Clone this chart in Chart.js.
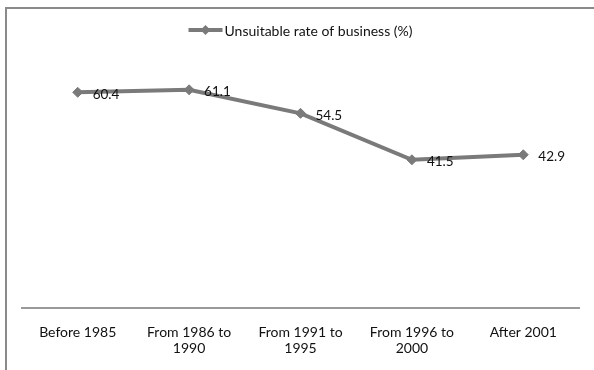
<!DOCTYPE html>
<html>
<head>
<meta charset="utf-8">
<script src="https://cdn.jsdelivr.net/npm/chart.js@4/dist/chart.umd.min.js"></script>
<style>
  html, body { margin: 0; padding: 0; background: #fff; overflow: hidden; }
  #wrap { position: relative; width: 594px; height: 370px; }
  #frame { position: absolute; left: 5px; top: 7px; width: 700px; height: 500px; border: 2px solid #8a8a8a; }
  canvas { position: absolute; left: 0; top: 0; }
</style>
</head>
<body>
<div id="wrap">
  <div id="frame"></div>
  <canvas id="rateChart" width="594" height="370"></canvas>
</div>
<script>
// Periodes en percentages
const periods = [
  "Before 1985",
  ["From 1986 to", "1990"],
  ["From 1991 to", "1995"],
  ["From 1996 to", "2000"],
  "After 2001"
];
const unsuitableRate = [60.4, 61.1, 54.5, 41.5, 42.9];
const seriesName = "Unsuitable rate of business (%)";

const lineGray = "#7a7a7a";
const textColor = "#111";
const fontFamily = "Lato, 'Open Sans', sans-serif";

// Waarde naast elk punt schrijven
const valueLabels = {
  id: "valueLabels",
  afterDatasetsDraw(chart) {
    const ctx = chart.ctx;
    const meta = chart.getDatasetMeta(0);
    ctx.save();
    ctx.font = "13.5px " + fontFamily;
    ctx.fillStyle = textColor;
    ctx.textAlign = "left";
    ctx.textBaseline = "middle";
    meta.data.forEach((pt, i) => {
      const v = chart.data.datasets[0].data[i];
      ctx.fillText(v.toFixed(1), pt.x + 15, pt.y + 2);
    });
    ctx.restore();
  }
};

// Legenda: lijntje met ruit en de naam van de reeks, gecentreerd boven de grafiek
const lineLegend = {
  id: "lineLegend",
  afterDraw(chart) {
    const ctx = chart.ctx;
    const ds = chart.data.datasets[0];
    const sampleW = 34;
    const gap = 2;
    const cy = 30;
    ctx.save();
    ctx.font = "14px " + fontFamily;
    const textW = ctx.measureText(ds.label).width;
    const mid = (chart.chartArea.left + chart.chartArea.right) / 2;
    const x0 = mid - (sampleW + gap + textW) / 2;

    ctx.strokeStyle = ds.borderColor;
    ctx.lineWidth = 4;
    ctx.beginPath();
    ctx.moveTo(x0, cy);
    ctx.lineTo(x0 + sampleW, cy);
    ctx.stroke();

    const cx = x0 + sampleW / 2;
    const r = 5;
    ctx.fillStyle = ds.pointBackgroundColor;
    ctx.beginPath();
    ctx.moveTo(cx - r, cy);
    ctx.lineTo(cx, cy - r);
    ctx.lineTo(cx + r, cy);
    ctx.lineTo(cx, cy + r);
    ctx.closePath();
    ctx.fill();

    ctx.fillStyle = textColor;
    ctx.textAlign = "left";
    ctx.textBaseline = "middle";
    ctx.fillText(ds.label, x0 + sampleW + gap, cy + 1);
    ctx.restore();
  }
};

const ctx = document.getElementById("rateChart").getContext("2d");

new Chart(ctx, {
  type: "line",
  data: {
    labels: periods,
    datasets: [{
      label: seriesName,
      data: unsuitableRate,
      borderColor: lineGray,
      backgroundColor: lineGray,
      borderWidth: 4,
      pointStyle: "rectRot",
      pointRadius: 5,
      pointBorderWidth: 1,
      pointBackgroundColor: lineGray,
      pointBorderColor: lineGray,
      tension: 0
    }]
  },
  options: {
    responsive: false,
    animation: false,
    events: [],
    layout: {
      padding: { left: 22, right: 15, top: 58, bottom: 0 }
    },
    plugins: {
      legend: { display: false },
      tooltip: { enabled: false }
    },
    scales: {
      x: {
        offset: true,
        grid: { display: false, drawTicks: false },
        border: { display: true, color: "#999", width: 2 },
        ticks: {
          color: textColor,
          padding: 16,
          maxRotation: 0,
          autoSkip: false,
          font: { family: fontFamily, size: 14, lineHeight: 1.15 }
        },
        afterFit(scale) {
          scale.height = 62;
        }
      },
      y: {
        display: false,
        min: 0,
        max: 70
      }
    }
  },
  plugins: [valueLabels, lineLegend]
});
</script>
</body>
</html>
